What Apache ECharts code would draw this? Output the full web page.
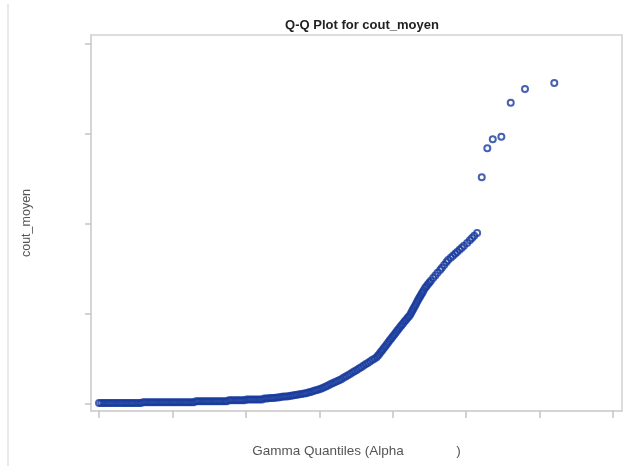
<!DOCTYPE html>
<html>
<head>
<meta charset="utf-8">
<script src="https://cdn.jsdelivr.net/npm/echarts@6/dist/echarts.min.js"></script>
<style>html,body{margin:0;padding:0;background:#fff;}#c{width:627px;height:466px;}</style>
</head>
<body>
<div id="c"></div>
<script>
const flatQuantiles = [0.00,0.03,0.06,0.09,0.12,0.15,0.18,0.21,0.24,0.27,0.30,0.33,0.36,0.39,0.42,0.45,0.48,0.51,0.54,0.57,
  0.60,0.63,0.66,0.69,0.72,0.75,0.78,0.81,0.84,0.87,0.90,0.93,0.96,0.99,1.02,1.05,1.08,1.11,1.14,1.17,1.20,1.23,1.26,1.29,
  1.32,1.35,1.38,1.41,1.44,1.47,1.50,1.53,1.56,1.59,1.62,1.65,1.68,1.71,1.74,
  1.77,1.80,1.83,1.86,1.89,1.92,1.95,1.98,
  2.01,2.04,2.07,2.10,2.13,2.16,2.19,2.22,
  2.25,2.28,2.31,2.34,2.37,
  2.40,2.43,2.46,2.49,2.52,2.55,2.58,2.61,2.64,2.67,2.70,2.73,2.76,2.79,2.82];
const flatValues = [0.01,0.01,0.01,0.01,0.01,0.01,0.01,0.01,0.01,0.01,0.01,0.01,0.01,0.01,0.01,0.01,0.01,0.01,0.01,0.01,
  0.02,0.02,0.02,0.02,0.02,0.02,0.02,0.02,0.02,0.02,0.02,0.02,0.02,0.02,0.02,0.02,0.02,0.02,0.02,0.02,0.02,0.02,0.02,0.02,
  0.03,0.03,0.03,0.03,0.03,0.03,0.03,0.03,0.03,0.03,0.03,0.03,0.03,0.03,0.03,
  0.04,0.04,0.04,0.04,0.04,0.04,0.04,0.04,
  0.05,0.05,0.05,0.05,0.05,0.05,0.05,0.05,
  0.060,0.062,0.064,0.065,0.067,
  0.070,0.073,0.075,0.079,0.082,0.084,0.087,0.090,0.094,0.099,0.103,0.107,0.111,0.116,0.120];
const riseQuantiles = [2.85,2.88,2.91,2.94,2.97,3.00,
  3.03,3.06,3.09,3.12,3.15,3.18,3.21,3.24,3.27,
  3.30,3.33,3.36,3.39,3.42,3.45,3.48,3.51,3.54,
  3.57,3.60,3.63,3.66,3.69,3.72,3.75,3.78,
  3.80,3.82,3.84,3.86,3.88,3.90,3.92,3.94,3.96,
  3.98,4.00,4.02,4.04,4.06,4.08,4.10,
  4.12,4.14,4.16,4.18,4.20,4.22,4.24,
  4.255,4.27,4.285,4.30,4.315,4.33,4.345,
  4.36,4.375,4.39,4.405,4.42,4.44,
  4.46,4.48,4.50,4.52,4.55,
  4.58,4.61,4.645,
  4.67,4.70,4.73,4.754,
  4.79,4.82,4.85,4.877,
  4.91,4.94,4.97,5.013,
  5.05,5.08,5.11,5.149];
const riseValues = [0.126,0.134,0.141,0.149,0.156,0.164,
  0.173,0.184,0.195,0.206,0.218,0.229,0.240,0.251,0.262,
  0.275,0.290,0.304,0.319,0.334,0.348,0.363,0.378,0.393,
  0.408,0.424,0.440,0.455,0.471,0.487,0.503,0.519,
  0.537,0.558,0.579,0.600,0.621,0.642,0.663,0.685,0.706,
  0.727,0.748,0.769,0.791,0.812,0.833,0.855,
  0.875,0.894,0.914,0.933,0.953,0.972,0.992,
  1.017,1.039,1.062,1.085,1.108,1.131,1.154,
  1.175,1.196,1.217,1.238,1.259,1.287,
  1.307,1.328,1.348,1.368,1.399,
  1.427,1.455,1.487,
  1.512,1.543,1.574,1.598,
  1.624,1.646,1.668,1.687,
  1.711,1.733,1.755,1.787,
  1.817,1.841,1.866,1.898];
const tailQuantiles = [5.212,5.288,5.362,5.479,5.607,5.801,6.200];
const tailValues = [2.516,2.838,2.938,2.967,3.344,3.496,3.563];

const xTicks = [0,1,2,3,4,5,6,7];
const yTicks = [0,1,2,3,4];

const titleText = 'Q-Q Plot for cout_moyen';
const xName = 'Gamma Quantiles (Alpha              )';
const yName = 'cout_moyen';

const allX = flatQuantiles.concat(riseQuantiles, tailQuantiles);
const allY = flatValues.concat(riseValues, tailValues);
const points = allX.map((x, i) => [x, allY[i]]);

const chart = echarts.init(document.getElementById('c'), null, {renderer: 'canvas'});
const frameColor = '#d2d2d2';
chart.setOption({
  animation: false,
  backgroundColor: '#ffffff',
  title: {
    text: titleText,
    left: 357, top: 14, textAlign: 'center',
    textStyle: {fontFamily: 'Liberation Sans', fontSize: 13, fontWeight: 'bold', color: '#222'}
  },
  graphic: [{
    type: 'line', shape: {x1: 8, y1: 4, x2: 8, y2: 466},
    style: {stroke: '#e2e2e2', lineWidth: 1.5}, silent: true
  }],
  grid: {left: 91, top: 35, right: 5, bottom: 55, show: true, borderColor: frameColor, borderWidth: 1.5, containLabel: false},
  xAxis: {
    type: 'value', min: -0.109, max: 7.122,
    name: xName, nameLocation: 'middle', nameGap: 33,
    nameTextStyle: {fontFamily: 'Liberation Sans', fontSize: 13.5, color: '#555'},
    axisLine: {show: true, onZero: false, lineStyle: {color: frameColor, width: 1.5}},
    axisTick: {show: true, customValues: xTicks, length: 7, lineStyle: {color: '#c4c4c4', width: 1.5}},
    axisLabel: {show: false},
    splitLine: {show: false}
  },
  yAxis: {
    type: 'value', min: -0.078, max: 4.095,
    name: yName, nameLocation: 'middle', nameGap: 58, nameRotate: 90,
    nameTextStyle: {fontFamily: 'Liberation Sans', fontSize: 12.5, color: '#555'},
    axisLine: {show: true, onZero: false, lineStyle: {color: frameColor, width: 1.5}},
    axisTick: {show: true, customValues: yTicks, length: 6, lineStyle: {color: '#c4c4c4', width: 1.5}},
    axisLabel: {show: false},
    splitLine: {show: false}
  },
  series: [{
    type: 'scatter',
    data: points,
    symbol: 'circle',
    symbolSize: 6,
    itemStyle: {color: 'rgba(0,0,0,0)', borderColor: '#163a9c', borderWidth: 2},
    emphasis: {disabled: true}
  }]
});
</script>
</body>
</html>
